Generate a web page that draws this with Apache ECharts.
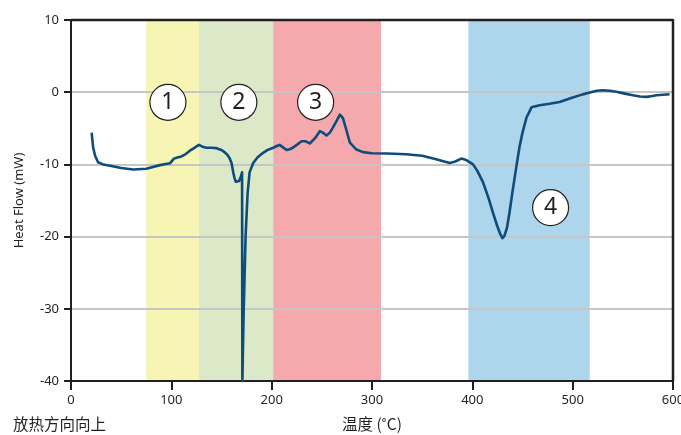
<!DOCTYPE html>
<html><head><meta charset="utf-8">
<script src="https://cdn.jsdelivr.net/npm/echarts@6/dist/echarts.min.js"></script>
<style>html,body{margin:0;padding:0;background:#fff}#c{width:681px;height:435px}</style>
</head><body><div id="c"></div>
<script>
const tempC = [20.6,22,24,27,32,39,50,62,75,88.6,98.6,100.5,102.6,106,110,114,118.5,123,127.5,131,135,140,145,150,153,156,158,160,161.7,163,164.3,166,167.6,169.5,170.5,170.8,172,174,176,178,181.6,186,191.5,196,201.5,205,208,211,215,218,221,225,229.8,234,238,243,248,251,254.7,258,261,265,268,271,274,278,284,291,300,315,334,350,364,372,377.5,383,389,394,400.7,405,410.7,416,420.6,425,428,430,432,434.5,437,440,444,447,450,454,459,467,477,487,500,510,517,524,530,537,543.5,552,560,567,573.4,578,583.4,590,596.6];
const heatFlow = [-5.6,-7.6,-8.8,-9.7,-10.0,-10.2,-10.5,-10.7,-10.6,-10.1,-9.85,-9.8,-9.2,-9.05,-8.9,-8.6,-8.1,-7.7,-7.3,-7.55,-7.7,-7.7,-7.75,-8.0,-8.3,-8.7,-9.1,-9.8,-11.1,-11.9,-12.4,-12.6,-12.3,-11.6,-11.1,-40,-31,-20,-14,-11.1,-9.8,-9.0,-8.4,-8.0,-7.7,-7.45,-7.3,-7.6,-8.0,-7.9,-7.7,-7.3,-6.8,-6.8,-7.1,-6.4,-5.4,-5.6,-6.0,-5.6,-4.9,-3.9,-3.1,-3.6,-5.0,-7.0,-7.9,-8.3,-8.45,-8.5,-8.6,-8.8,-9.3,-9.6,-9.8,-9.6,-9.2,-9.4,-10.0,-10.9,-12.5,-14.6,-16.7,-18.6,-19.7,-20.2,-19.9,-18.8,-16.7,-13.8,-10.2,-7.6,-5.6,-3.5,-2.1,-1.8,-1.6,-1.35,-0.74,-0.3,-0.05,0.2,0.28,0.2,0.05,-0.2,-0.42,-0.6,-0.65,-0.55,-0.42,-0.35,-0.28];

const bandStart = [75, 127.5, 201.5, 396];
const bandEnd = [127.5, 201.5, 309, 517];
const bandColors = ['#f7f5b4', '#dce9c8', '#f5a9ad', '#add5eb'];

const markerX = [96.6, 167.3, 243.8, 478];
const markerY = [-1.4, -1.4, -1.4, -16];
const markerText = ['1', '2', '3', '4'];

const xMin = 0, xMax = 600, yMin = -40, yMax = 10;

const font = '"Noto Sans", "Noto Sans CJK SC", sans-serif';
const chart = echarts.init(document.getElementById('c'));
const axisCol = '#231f20';

chart.setOption({
  animation: false,
  grid: {left: 71, right: 8, top: 20, bottom: 54, outerBoundsMode: 'none', containLabel: false},
  xAxis: {
    type: 'value', min: xMin, max: xMax, interval: 100,
    axisLine: {show: true, onZero: false, lineStyle: {color: axisCol, width: 2}},
    axisTick: {show: true, length: 9, lineStyle: {color: axisCol, width: 2}},
    axisLabel: {color: '#231f20', fontSize: 13, fontFamily: font, margin: 13},
    splitLine: {show: false}
  },
  yAxis: {
    type: 'value', min: yMin, max: yMax, interval: 10,
    name: 'Heat Flow (mW)', nameLocation: 'middle', nameGap: 45,
    nameTextStyle: {color: '#231f20', fontSize: 13, fontFamily: font},
    axisLine: {show: true, onZero: false, lineStyle: {color: axisCol, width: 2}},
    axisTick: {show: true, length: 7, lineStyle: {color: axisCol, width: 2}},
    axisLabel: {color: '#231f20', fontSize: 13, fontFamily: font, margin: 12},
    splitLine: {show: true, lineStyle: {color: '#c6c6c6', width: 2}}
  },
  series: [{
    type: 'line', data: [], z: -1, clip: false,
    markArea: {
      silent: true, z: -1,
      data: bandStart.map((s, i) => [
        {xAxis: s, yAxis: yMin, itemStyle: {color: bandColors[i], opacity: 1}},
        {xAxis: bandEnd[i], yAxis: yMax}
      ])
    }
  }, {
    type: 'line', z: 3,
    data: tempC.map((x, i) => [x, heatFlow[i]]),
    showSymbol: false, symbol: 'none', smooth: false,
    lineStyle: {color: '#0e4c7b', width: 2.6, join: 'round'},
    clip: false
  }, {
    type: 'scatter', z: 4,
    data: markerX.map((x, i) => [x, markerY[i]]),
    symbol: 'circle', symbolSize: 36,
    itemStyle: {color: '#ffffff', borderColor: '#231f20', borderWidth: 1.2, opacity: 1},
    label: {show: true, position: 'inside', color: '#231f20', fontSize: 23, fontFamily: font,
      formatter: p => markerText[p.dataIndex]}
  }, {
    type: 'line', data: [[xMin, yMax], [xMax, yMax], [xMax, yMin]], z: 6, clip: false,
    showSymbol: false, symbol: 'none', silent: true,
    lineStyle: {color: '#231f20', width: 2.5, opacity: 1},
    itemStyle: {color: '#231f20'}
  }],
  graphic: [
    {type: 'text', left: 13, top: 416, style: {text: '放热方向向上', fill: '#231f20', font: '15.5px "Noto Sans CJK SC", sans-serif'}},
    {type: 'text', left: 342, top: 416, style: {text: '温度 (˚C)', fill: '#231f20', font: '15.5px "Noto Sans CJK SC", sans-serif'}},
    {type: 'rect', left: 71, top: 19, shape: {width: 603, height: 2}, style: {fill: '#231f20'}, z: 100},
    {type: 'rect', left: 672, top: 19, shape: {width: 2, height: 363}, style: {fill: '#231f20'}, z: 100}
  ]
});
</script></body></html>
